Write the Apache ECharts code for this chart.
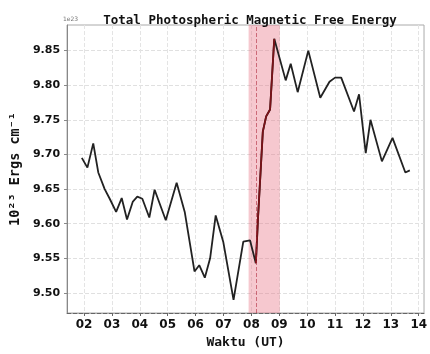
<!DOCTYPE html>
<html>
<head>
<meta charset="utf-8">
<script src="https://cdn.jsdelivr.net/npm/echarts@6/dist/echarts.min.js"></script>
<style>html,body{margin:0;padding:0;background:#fff;}#c{width:430px;height:354px;}</style>
</head>
<body>
<div id="c"></div>
<script>
const times = [1.92,2.12,2.33,2.51,2.74,2.92,3.15,3.35,3.54,3.75,3.91,4.09,4.34,4.53,4.93,5.32,5.61,5.96,6.13,6.33,6.52,6.72,6.99,7.36,7.71,7.95,8.16,8.24,8.41,8.53,8.67,8.82,9.23,9.41,9.66,10.04,10.47,10.80,11.00,11.22,11.68,11.86,12.10,12.27,12.68,13.06,13.52,13.68];
const energy = [9.695,9.681,9.716,9.674,9.650,9.636,9.617,9.637,9.606,9.632,9.639,9.636,9.609,9.649,9.605,9.659,9.617,9.531,9.540,9.522,9.550,9.612,9.574,9.490,9.574,9.576,9.543,9.610,9.733,9.755,9.765,9.867,9.807,9.831,9.790,9.850,9.782,9.805,9.811,9.811,9.762,9.787,9.702,9.750,9.690,9.724,9.674,9.677];
const xTicks = [2,3,4,5,6,7,8,9,10,11,12,13,14];
const xTickLabels = ['02','03','04','05','06','07','08','09','10','11','12','13','14'];
const yTicks = [9.50,9.55,9.60,9.65,9.70,9.75,9.80,9.85];
const bandRange = [7.9, 9.02];
const flareLine = 8.17;

const pairs = times.map((t,i)=>[t,energy[i]]);
const flarePairs = pairs.filter(p=>p[0]>=8.16 && p[0]<=8.82);

const chart = echarts.init(document.getElementById('c'), null, {renderer:'canvas'});
const mono = "'DejaVu Sans Mono', monospace";
const sans = "'DejaVu Sans', sans-serif";
chart.setOption({
  animation:false,
  backgroundColor:'#fff',
  title:{text:'Total Photospheric Magnetic Free Energy', left:245, textAlign:'center', top:9,
    textStyle:{fontFamily:mono, fontSize:12.5, fontWeight:'bold', color:'#111'}},
  grid:{left:62, right:2, top:25, bottom:39, show:true, borderColor:'#aaa', borderWidth:1},
  graphic:[{type:'text', left:63, top:16, style:{text:'1e23', font:'6px '+sans, fill:'#777'}}],
  xAxis:{type:'value', min:1.39, max:14.19,
    name:'Waktu (UT)', nameLocation:'middle', nameGap:23,
    nameTextStyle:{fontFamily:mono, fontSize:13, fontWeight:'bold', color:'#111'},
    axisLine:{show:true, lineStyle:{color:'#666', type:'dashed'}},
    axisTick:{show:true, customValues:xTicks, length:3, lineStyle:{color:'#666'}},
    axisLabel:{customValues:xTicks, formatter:v=>xTickLabels[xTicks.indexOf(Math.round(v))] || '', fontFamily:sans, fontSize:12, fontWeight:'bold', color:'#111', margin:6},
    splitLine:{show:true, lineStyle:{color:'#e4e4e4', type:'dashed'}}
  },
  yAxis:{type:'value', min:9.471, max:9.887,
    name:'10²³ Ergs cm⁻¹', nameLocation:'middle', nameGap:42,
    nameTextStyle:{fontFamily:mono, fontSize:13.5, fontWeight:'bold', color:'#111'},
    axisLine:{show:true, lineStyle:{color:'#888'}},
    axisTick:{show:true, customValues:yTicks, length:3, lineStyle:{color:'#888'}},
    axisLabel:{customValues:yTicks, formatter:v=>v.toFixed(2), fontFamily:sans, fontSize:11, fontWeight:'bold', color:'#111', margin:7},
    splitLine:{show:true, lineStyle:{color:'#e0e0e0', type:'dashed'}}
  },
  series:[
    {type:'line', data:pairs, showSymbol:false, z:2,
      lineStyle:{color:'#222', width:1.8}},
    {type:'line', data:flarePairs, showSymbol:false, z:3,
      lineStyle:{color:'#7a1218', width:1.8}},
    {type:'line', data:[[bandRange[0], null]], showSymbol:false, z:1, silent:true,
      markArea:{silent:true, itemStyle:{color:'rgba(232,110,130,0.38)'}, data:[[{xAxis:bandRange[0]},{xAxis:bandRange[1]}]]},
      markLine:{silent:true, symbol:'none', label:{show:false}, lineStyle:{color:'rgba(170,30,50,0.55)', type:'dashed', width:1}, data:[{xAxis:flareLine}]}
    }
  ]
});
</script>
</body>
</html>
